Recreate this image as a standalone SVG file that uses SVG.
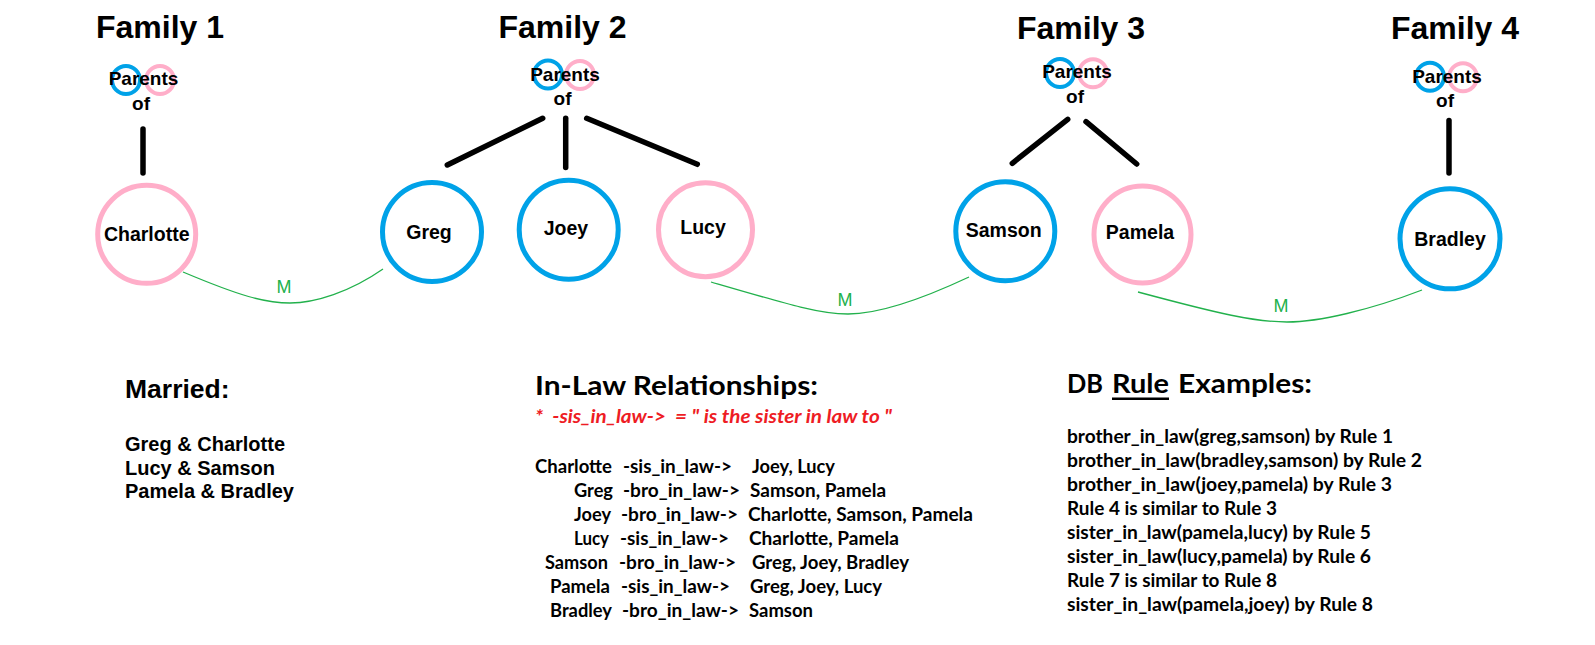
<svg xmlns="http://www.w3.org/2000/svg" width="1595" height="645" viewBox="0 0 1595 645">
<style>
.title{font-family:"Liberation Sans",Arial,sans-serif;font-weight:700;font-size:32px;fill:#000;text-anchor:middle}
.par{font-family:"Liberation Sans",Arial,sans-serif;font-weight:700;font-size:19px;fill:#000;text-anchor:middle}
.name{font-family:"Liberation Sans",Arial,sans-serif;font-weight:700;font-size:19.5px;fill:#000;text-anchor:middle}
.blue{fill:none;stroke:#00A2E8}
.pink{fill:none;stroke:#FFAEC9}
.big{stroke-width:5}
.small{stroke-width:4}
.tree{stroke:#000;stroke-width:5.5;stroke-linecap:round;fill:none}
.marry{stroke:#22B14C;stroke-width:1.3;fill:none}
.m{font-family:"Liberation Sans",Arial,sans-serif;font-size:18px;fill:#22B14C;text-anchor:middle}
.hd{font-family:"Liberation Sans",Arial,sans-serif;font-weight:700;font-size:26.5px;fill:#000}
.ln{font-family:"Liberation Sans",Arial,sans-serif;font-weight:700;font-size:20px;fill:#000}
.ch{font-family:Lato,"Open Sans",sans-serif;font-weight:700;font-size:26px;fill:#000}
.cl{font-family:Lato,"Open Sans",sans-serif;font-weight:700;font-size:18px;fill:#000}
.red{font-family:Lato,"Open Sans",sans-serif;font-weight:700;font-style:italic;font-size:18px;fill:#EE1C24}
</style>

<g id="connectors">
  <line class="tree" x1="143" y1="129" x2="143" y2="173"/>
  <line class="tree" x1="542.7" y1="118.3" x2="447.3" y2="165"/>
  <line class="tree" x1="565.7" y1="118.3" x2="565.7" y2="167.5"/>
  <line class="tree" x1="586.7" y1="118.3" x2="697.3" y2="164.3"/>
  <line class="tree" x1="1067.7" y1="119.3" x2="1012.3" y2="163.3"/>
  <line class="tree" x1="1086" y1="121.7" x2="1136.7" y2="164"/>
  <line class="tree" x1="1449" y1="120.5" x2="1449" y2="173"/>
  <path class="marry" d="M183,272 C240,296 265,303 290,303 S350,292 383,269"/>
  <path class="marry" d="M711,282 C790,305 820,314 848,314 S920,300 969,277"/>
  <path class="marry" d="M1138,292 C1220,314 1255,322 1287,322 S1370,310 1422,290"/>
  <text class="m" x="284" y="293">M</text>
  <text class="m" x="845" y="306">M</text>
  <text class="m" x="1281" y="312">M</text>
</g>

<g id="family1">
  <text class="title" x="160" y="38">Family 1</text>
  <circle class="blue small" cx="126" cy="80" r="14"/>
  <circle class="pink small" cx="160" cy="80" r="14"/>
  <text class="par" x="143.5" y="85">Parents</text>
  <text class="par" x="141" y="110">of</text>
</g>
<g id="family2">
  <text class="title" x="562.5" y="38">Family 2</text>
  <circle class="blue small" cx="548" cy="74.5" r="14"/>
  <circle class="pink small" cx="580" cy="75" r="14"/>
  <text class="par" x="565" y="81">Parents</text>
  <text class="par" x="562.5" y="105">of</text>
</g>
<g id="family3">
  <text class="title" x="1081" y="38.5">Family 3</text>
  <circle class="blue small" cx="1060" cy="73" r="14"/>
  <circle class="pink small" cx="1093" cy="73.3" r="14"/>
  <text class="par" x="1077" y="78.3">Parents</text>
  <text class="par" x="1075" y="103">of</text>
</g>
<g id="family4">
  <text class="title" x="1455" y="38.5">Family 4</text>
  <circle class="blue small" cx="1430" cy="76.7" r="14"/>
  <circle class="pink small" cx="1463" cy="77.3" r="14"/>
  <text class="par" x="1447" y="82.7">Parents</text>
  <text class="par" x="1445" y="106.7">of</text>
</g>

<g id="charlotte">
  <circle class="pink big" cx="146.7" cy="234.3" r="49"/>
  <text class="name" x="146.7" y="240.7">Charlotte</text>
</g>
<g id="greg">
  <circle class="blue big" cx="432" cy="232" r="49.5"/>
  <text class="name" x="429" y="239">Greg</text>
</g>
<g id="joey">
  <circle class="blue big" cx="568.7" cy="229.7" r="49.5"/>
  <text class="name" x="566" y="235">Joey</text>
</g>
<g id="lucy">
  <circle class="pink big" cx="705.5" cy="229.7" r="47"/>
  <text class="name" x="703" y="234">Lucy</text>
</g>
<g id="samson">
  <circle class="blue big" cx="1005.3" cy="231.3" r="49.5"/>
  <text class="name" x="1003.7" y="237.3">Samson</text>
</g>
<g id="pamela">
  <circle class="pink big" cx="1142.5" cy="234.5" r="48.5"/>
  <text class="name" x="1140" y="239">Pamela</text>
</g>
<g id="bradley">
  <circle class="blue big" cx="1450" cy="238.8" r="50"/>
  <text class="name" x="1450" y="245.7">Bradley</text>
</g>

<g id="married">
  <text class="hd" x="125" y="398">Married:</text>
  <text class="ln" x="125" y="451">Greg &amp; Charlotte</text>
  <text class="ln" x="125" y="475">Lucy &amp; Samson</text>
  <text class="ln" x="125" y="498">Pamela &amp; Bradley</text>
</g>

<g id="inlaw">
  <text class="ch" x="535" y="395" textLength="283" lengthAdjust="spacingAndGlyphs">In-Law Relationships:</text>
  <text class="red" x="535" y="423" textLength="357" lengthAdjust="spacingAndGlyphs" xml:space="preserve">*  -sis_in_law->  = " is the sister in law to "</text>

  <text class="cl" x="535" y="473" textLength="77" lengthAdjust="spacingAndGlyphs">Charlotte</text>
  <text class="cl" x="623" y="473" textLength="109" lengthAdjust="spacingAndGlyphs">-sis_in_law-&gt;</text>
  <text class="cl" x="752" y="473" textLength="83" lengthAdjust="spacingAndGlyphs">Joey, Lucy</text>

  <text class="cl" x="574" y="497" textLength="39" lengthAdjust="spacingAndGlyphs">Greg</text>
  <text class="cl" x="623" y="497" textLength="117" lengthAdjust="spacingAndGlyphs">-bro_in_law-&gt;</text>
  <text class="cl" x="750" y="497" textLength="136" lengthAdjust="spacingAndGlyphs">Samson, Pamela</text>

  <text class="cl" x="574" y="521" textLength="37" lengthAdjust="spacingAndGlyphs">Joey</text>
  <text class="cl" x="621" y="521" textLength="117" lengthAdjust="spacingAndGlyphs">-bro_in_law-&gt;</text>
  <text class="cl" x="748" y="521" textLength="225" lengthAdjust="spacingAndGlyphs">Charlotte, Samson, Pamela</text>

  <text class="cl" x="574" y="545" textLength="35" lengthAdjust="spacingAndGlyphs">Lucy</text>
  <text class="cl" x="620" y="545" textLength="109" lengthAdjust="spacingAndGlyphs">-sis_in_law-&gt;</text>
  <text class="cl" x="749" y="545" textLength="150" lengthAdjust="spacingAndGlyphs">Charlotte, Pamela</text>

  <text class="cl" x="545" y="569" textLength="63" lengthAdjust="spacingAndGlyphs">Samson</text>
  <text class="cl" x="619" y="569" textLength="117" lengthAdjust="spacingAndGlyphs">-bro_in_law-&gt;</text>
  <text class="cl" x="752" y="569" textLength="157" lengthAdjust="spacingAndGlyphs">Greg, Joey, Bradley</text>

  <text class="cl" x="550" y="593" textLength="60" lengthAdjust="spacingAndGlyphs">Pamela</text>
  <text class="cl" x="621" y="593" textLength="109" lengthAdjust="spacingAndGlyphs">-sis_in_law-&gt;</text>
  <text class="cl" x="750" y="593" textLength="132" lengthAdjust="spacingAndGlyphs">Greg, Joey, Lucy</text>

  <text class="cl" x="550" y="617" textLength="62" lengthAdjust="spacingAndGlyphs">Bradley</text>
  <text class="cl" x="622" y="617" textLength="117" lengthAdjust="spacingAndGlyphs">-bro_in_law-&gt;</text>
  <text class="cl" x="749" y="617" textLength="64" lengthAdjust="spacingAndGlyphs">Samson</text>
</g>

<g id="rules">
  <text class="ch" x="1067" y="393" textLength="36" lengthAdjust="spacingAndGlyphs">DB</text>
  <text class="ch" x="1112" y="393" textLength="57" lengthAdjust="spacingAndGlyphs">Rule</text>
  <rect x="1112" y="397.5" width="57" height="2.5" fill="#000"/>
  <text class="ch" x="1178" y="393" textLength="134" lengthAdjust="spacingAndGlyphs">Examples:</text>

  <text class="cl" x="1067" y="443" textLength="326" lengthAdjust="spacingAndGlyphs">brother_in_law(greg,samson) by Rule 1</text>
  <text class="cl" x="1067" y="467" textLength="355" lengthAdjust="spacingAndGlyphs">brother_in_law(bradley,samson) by Rule 2</text>
  <text class="cl" x="1067" y="491" textLength="325" lengthAdjust="spacingAndGlyphs">brother_in_law(joey,pamela) by Rule 3</text>
  <text class="cl" x="1067" y="515" textLength="210" lengthAdjust="spacingAndGlyphs">Rule 4 is similar to Rule 3</text>
  <text class="cl" x="1067" y="539" textLength="304" lengthAdjust="spacingAndGlyphs">sister_in_law(pamela,lucy) by Rule 5</text>
  <text class="cl" x="1067" y="563" textLength="304" lengthAdjust="spacingAndGlyphs">sister_in_law(lucy,pamela) by Rule 6</text>
  <text class="cl" x="1067" y="587" textLength="210" lengthAdjust="spacingAndGlyphs">Rule 7 is similar to Rule 8</text>
  <text class="cl" x="1067" y="611" textLength="306" lengthAdjust="spacingAndGlyphs">sister_in_law(pamela,joey) by Rule 8</text>
</g>
</svg>
